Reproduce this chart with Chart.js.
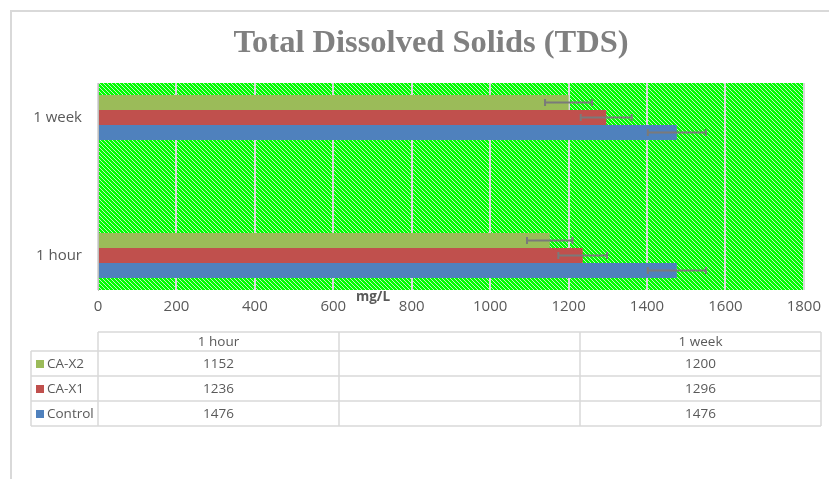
<!DOCTYPE html>
<html>
<head>
<meta charset="utf-8">
<script src="https://cdn.jsdelivr.net/npm/chart.js@4/dist/chart.umd.min.js"></script>
<style>
  html, body { margin: 0; padding: 0; background: #fff; overflow: hidden; }
  #frame { position: absolute; left: 10px; top: 10px; width: 840px; height: 500px; border: 2px solid #d9d9d9; box-sizing: border-box; }
  #wrap { position: absolute; left: 0; top: 0; width: 829px; height: 479px; }
</style>
</head>
<body>
<div id="frame"></div>
<div id="wrap"><canvas id="tdsChart" width="829" height="479"></canvas></div>
<script>
// Total Dissolved Solids — horizontal bars with error bars + data table below.
const timeLabels = ['1 hour', '', '1 week'];
const seriesNames = ['CA-X2', 'CA-X1', 'Control'];
const cax2Values = [1152, null, 1200];
const cax1Values = [1236, null, 1296];
const controlValues = [1476, null, 1476];
const cax2Errors = [58, null, 60];
const cax1Errors = [62, null, 65];
const controlErrors = [74, null, 74];
const axisMin = 0;
const axisMax = 1800;
const axisStep = 200;

const seriesColors = ['#9bbb59', '#c0504d', '#4f81bd'];
const textColor = '#595959';
const lineGrey = '#d9d9d9';

function makeHatch() {
  const tile = document.createElement('canvas');
  tile.width = 4;
  tile.height = 4;
  const t = tile.getContext('2d');
  t.fillStyle = '#00ff00';
  t.fillRect(0, 0, 4, 4);
  t.fillStyle = '#c4ecc4';
  for (let i = 0; i < 4; i++) t.fillRect(i, i, 1, 1);
  return t.createPattern(tile, 'repeat');
}

const hatchBackground = {
  id: 'hatchBackground',
  beforeDraw(chart) {
    const { ctx, chartArea: a } = chart;
    ctx.save();
    ctx.fillStyle = makeHatch();
    ctx.fillRect(a.left, a.top, a.right - a.left, a.bottom - a.top);
    ctx.restore();
  },
};

const errorBars = {
  id: 'errorBars',
  afterDatasetsDraw(chart) {
    const { ctx } = chart;
    const xs = chart.scales.x;
    ctx.save();
    ctx.strokeStyle = '#7a7a7a';
    ctx.lineWidth = 2;
    chart.data.datasets.forEach((ds, di) => {
      const meta = chart.getDatasetMeta(di);
      meta.data.forEach((bar, i) => {
        const v = ds.data[i];
        const e = ds.errors[i];
        if (v == null || e == null) return;
        const x1 = xs.getPixelForValue(v - e);
        const x2 = xs.getPixelForValue(v + e);
        const y = bar.y;
        ctx.beginPath();
        ctx.moveTo(x1, y); ctx.lineTo(x2, y);
        ctx.moveTo(x1, y - 3.5); ctx.lineTo(x1, y + 3.5);
        ctx.moveTo(x2, y - 3.5); ctx.lineTo(x2, y + 3.5);
        ctx.stroke();
      });
    });
    ctx.restore();
  },
};

// title, axis title and the data table under the plot
const extras = {
  id: 'extras',
  afterDraw(chart) {
    const { ctx, chartArea: a } = chart;
    ctx.save();
    ctx.fillStyle = '#808080';
    ctx.font = 'bold 32.5px "Liberation Serif"';
    ctx.textAlign = 'center';
    ctx.textBaseline = 'alphabetic';
    ctx.fillText('Total Dissolved Solids (TDS)', 431, 52);

    ctx.fillStyle = textColor;
    ctx.font = 'bold 13.5px "Open Sans"';
    ctx.fillText('mg/L', 373, 301);

    // data table
    const colW = 241;
    const legendLeft = 31;
    const top = 332;
    const headH = 19;
    const rowH = 25;
    const nRows = seriesNames.length;
    const bottom = top + headH + rowH * nRows;
    const right = a.left + colW * timeLabels.length;
    ctx.strokeStyle = lineGrey;
    ctx.lineWidth = 1.5;
    ctx.beginPath();
    ctx.moveTo(a.left, top); ctx.lineTo(right, top);
    for (let r = 0; r <= nRows; r++) {
      const y = top + headH + rowH * r;
      ctx.moveTo(legendLeft, y); ctx.lineTo(right, y);
    }
    ctx.moveTo(legendLeft, top + headH); ctx.lineTo(legendLeft, bottom);
    for (let c = 0; c <= timeLabels.length; c++) {
      const x = a.left + colW * c;
      ctx.moveTo(x, top); ctx.lineTo(x, bottom);
    }
    ctx.stroke();

    ctx.font = '13.5px "Open Sans"';
    ctx.textBaseline = 'middle';
    ctx.textAlign = 'center';
    timeLabels.forEach((lab, c) => {
      ctx.fillText(lab, a.left + colW * c + colW / 2, top + headH / 2 + 1);
    });
    chart.data.datasets.forEach((ds, r) => {
      const yc = top + headH + rowH * r + rowH / 2 + 1;
      ctx.fillStyle = ds.backgroundColor;
      ctx.fillRect(legendLeft + 5, yc - 4.5, 8, 8);
      ctx.fillStyle = textColor;
      ctx.textAlign = 'left';
      ctx.fillText(ds.label, legendLeft + 16, yc);
      ctx.textAlign = 'center';
      ds.data.forEach((v, c) => {
        if (v == null) return;
        ctx.fillText(String(v), a.left + colW * c + colW / 2, yc);
      });
    });
    ctx.restore();
  },
};

const valueSets = [cax2Values, cax1Values, controlValues];
const errorSets = [cax2Errors, cax1Errors, controlErrors];

new Chart(document.getElementById('tdsChart'), {
  type: 'bar',
  data: {
    labels: timeLabels,
    datasets: seriesNames.map((name, i) => ({
      label: name,
      data: valueSets[i],
      errors: errorSets[i],
      backgroundColor: seriesColors[i],
      borderWidth: 0,
      categoryPercentage: 0.65,
      barPercentage: 1,
    })),
  },
  options: {
    indexAxis: 'y',
    responsive: false,
    animation: false,
    layout: { padding: { top: 83, right: 25, bottom: 149, left: 0 } },
    plugins: { legend: { display: false }, tooltip: { enabled: false } },
    scales: {
      x: {
        min: axisMin,
        max: axisMax,
        ticks: {
          stepSize: axisStep,
          color: textColor,
          font: { family: 'Open Sans', size: 15 },
          padding: 8,
          callback: (v) => String(v),
        },
        grid: { color: lineGrey, lineWidth: 2, drawTicks: false },
        border: { display: false },
        afterFit(scale) { scale.height = 40; },
      },
      y: {
        reverse: true,
        ticks: { color: textColor, font: { family: 'Open Sans', size: 15 }, padding: 16 },
        grid: { display: false, drawTicks: false },
        border: { display: true, color: '#bfbfbf', width: 1 },
        afterFit(scale) { scale.width = 98; },
      },
    },
  },
  plugins: [hatchBackground, errorBars, extras],
});
</script>
</body>
</html>
